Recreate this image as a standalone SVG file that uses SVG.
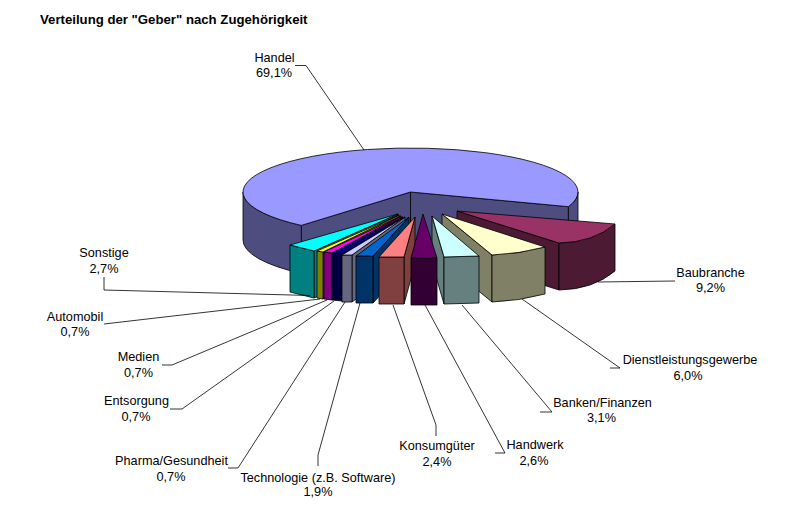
<svg xmlns="http://www.w3.org/2000/svg" width="810" height="521" viewBox="0 0 810 521">
<style>
.e{stroke:#000;stroke-width:0.8;stroke-linejoin:round}
.t{font-family:"Liberation Sans",Arial,sans-serif;font-size:12.7px;fill:#000;text-anchor:middle}
.ttl{font-family:"Liberation Sans",Arial,sans-serif;font-size:13.2px;font-weight:bold;fill:#000}
.ld{fill:none;stroke:#000;stroke-width:0.8}
</style>
<rect width="810" height="521" fill="#fff"/>
<text class="ttl" x="40" y="24">Verteilung der "Geber" nach Zugehörigkeit</text>

<g id="handel">
<path class="e" fill="#4D4D80" d="M410.5,192 L301.3,225.4 L301.3,273.4 L410.5,240 Z"/>
<path class="e" fill="#4D4D80" d="M410.5,192 L568.4,206.7 L568.4,254.7 L410.5,240 Z"/>
<path class="e" fill="#4D4D80" d="M243,192 A167.5,44 0 0 0 301.3,225.4 L301.3,273.4 A167.5,44 0 0 1 243,240 Z"/>
<path class="e" fill="#4D4D80" d="M568.4,206.7 A167.5,44 0 0 0 578,192 L578,240 A167.5,44 0 0 1 568.4,254.7 Z"/>
<path class="e" fill="#9999FF" d="M410.5,192 L568.4,206.7 A167.5,44 0 1 0 301.3,225.4 Z"/>
<text class="t" x="274.5" y="61.5">Handel</text>
<text class="t" x="274" y="77">69,1%</text>
</g>

<g id="sonstige">
<path class="e" fill="#008080" d="M314,251 L398,214 L398,261 L314,298 Z"/>
<path class="e" fill="#008080" d="M290,245 L314,251 L314,298 L290,292 Z"/>
<path class="e" fill="#00FFFF" d="M398,214 L290,245 L314,251 Z"/>
<text class="t" x="104" y="257">Sonstige</text>
<text class="t" x="104" y="273">2,7%</text>
</g>

<g id="automobil">
<path class="e" fill="#808000" d="M323,252 L399,215 L399,262 L323,299 Z"/>
<path class="e" fill="#808000" d="M317,251 L323,252 L323,299 L317,298 Z"/>
<path class="e" fill="#FFFF00" d="M399,215 L317,251 L323,252 Z"/>
<text class="t" x="75" y="320.5">Automobil</text>
<text class="t" x="75" y="335.5">0,7%</text>
</g>

<g id="medien">
<path class="e" fill="#800080" d="M332,253 L401,216 L401,263 L332,300 Z"/>
<path class="e" fill="#800080" d="M324,252 L332,253 L332,300 L324,299 Z"/>
<path class="e" fill="#FF00FF" d="M401,216 L324,252 L332,253 Z"/>
<text class="t" x="138.5" y="361">Medien</text>
<text class="t" x="138.5" y="376.5">0,7%</text>
</g>

<g id="entsorgung">
<path class="e" fill="#000040" d="M342,254 L403,217 L403,264 L342,301 Z"/>
<path class="e" fill="#000040" d="M332,253 L342,254 L342,301 L332,300 Z"/>
<path class="e" fill="#000080" d="M403,217 L332,253 L342,254 Z"/>
<text class="t" x="136.5" y="405">Entsorgung</text>
<text class="t" x="136" y="420.5">0,7%</text>
</g>

<g id="pharma">
<path class="e" fill="#666680" d="M352,255 L405,217 L405,264 L352,302 Z"/>
<path class="e" fill="#666680" d="M342,255 L352,255 L352,302 L342,302 Z"/>
<path class="e" fill="#CCCCFF" d="M405,217 L342,255 L352,255 Z"/>
<text class="t" x="171.5" y="465">Pharma/Gesundheit</text>
<text class="t" x="171" y="480.5">0,7%</text>
</g>

<g id="technologie">
<path class="e" fill="#003366" d="M373,256 L409,217 L409,264 L373,303 Z"/>
<path class="e" fill="#003366" d="M356,256 L373,256 L373,303 L356,303 Z"/>
<path class="e" fill="#0066CC" d="M409,217 L356,256 L373,256 Z"/>
<text class="t" x="318" y="481.5">Technologie (z.B. Software)</text>
<text class="t" x="318" y="495.5">1,9%</text>
</g>

<g id="konsumgueter">
<path class="e" fill="#804040" d="M404,257 L415,217 L415,264 L404,304 Z"/>
<path class="e" fill="#804040" d="M379,257 L404,257 L404,304 L379,304 Z"/>
<path class="e" fill="#FF8080" d="M415,217 L379,257 L404,257 Z"/>
<text class="t" x="437" y="450">Konsumgüter</text>
<text class="t" x="437" y="465.5">2,4%</text>
</g>

<g id="baubranche">
<path class="e" fill="#4D1A33" d="M457,211 L559,243 L559,290 L457,258 Z"/>
<path class="e" fill="#4D1A33" d="M559,243 Q593,242.5 615,224 L615,271 Q593,289.5 559,290 Z"/>
<path class="e" fill="#993366" d="M457,211 L615,224 Q593,242.5 559,243 Z"/>
<text class="t" x="710.5" y="276.5">Baubranche</text>
<text class="t" x="710.5" y="292">9,2%</text>
</g>

<g id="dienstleistungsgewerbe">
<path class="e" fill="#808066" d="M442,214 L492,255 L492,302 L442,261 Z"/>
<path class="e" fill="#808066" d="M492,255 Q519,254 545,247 L545,294 Q519,301 492,302 Z"/>
<path class="e" fill="#FFFFCC" d="M442,214 L545,247 Q519,254 492,255 Z"/>
<text class="t" x="690" y="364">Dienstleistungsgewerbe</text>
<text class="t" x="688" y="380">6,0%</text>
</g>

<g id="banken">
<path class="e" fill="#668080" d="M432,216 L444,257 L444,304 L432,263 Z"/>
<path class="e" fill="#668080" d="M444,257 L479,256 L479,303 L444,304 Z"/>
<path class="e" fill="#CCFFFF" d="M432,216 L479,256 L444,257 Z"/>
<text class="t" x="602.5" y="407">Banken/Finanzen</text>
<text class="t" x="601.5" y="422">3,1%</text>
</g>

<g id="handwerk">
<path class="e" fill="#330033" d="M411,258 L437,258 L437,305 L411,305 Z"/>
<path class="e" fill="#660066" d="M423,214 L411,258 L437,258 Z"/>
<text class="t" x="535" y="449">Handwerk</text>
<text class="t" x="534" y="465">2,6%</text>
</g>

<g id="connectors">
<path class="ld" d="M295,65.5 H306 L364,150"/>
<path class="ld" d="M104,277 V290 L310,295.5"/>
<path class="ld" d="M104,324 L320,299"/>
<path class="ld" d="M162,365 H172 L327,300"/>
<path class="ld" d="M170,409 H182 L334,301"/>
<path class="ld" d="M228,468 H238 L345,302"/>
<path class="ld" d="M318,466 V455 L360,303"/>
<path class="ld" d="M436,436 V425 L393,305"/>
<path class="ld" d="M495,453 H505 L425,305"/>
<path class="ld" d="M540,412 H552 L462,305"/>
<path class="ld" d="M610,368 H620 L522,299"/>
<path class="ld" d="M675,281 L598,282"/>
</g>
</svg>
